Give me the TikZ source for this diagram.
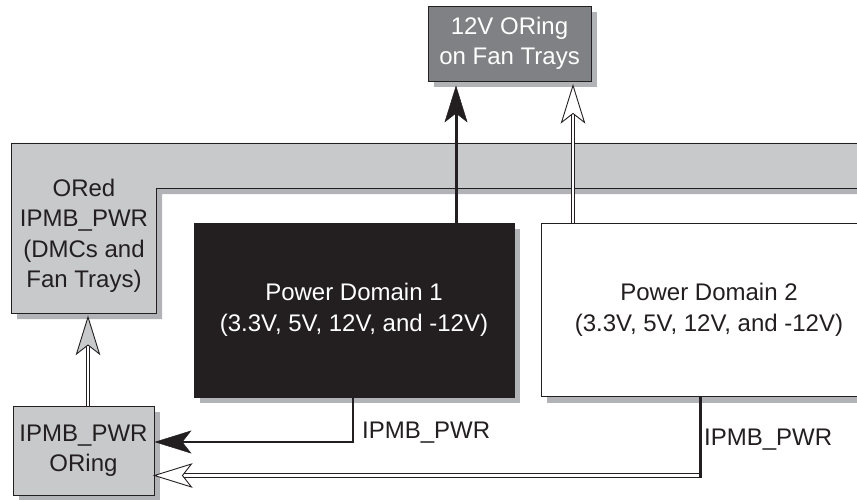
\documentclass[tikz,border=0pt]{standalone}
\usepackage{fontspec}
\setmainfont{Liberation Sans}
\usetikzlibrary{arrows.meta,shadows,calc}
\definecolor{ink}{RGB}{35,31,32}
\definecolor{lightfill}{RGB}{200,201,203}
\definecolor{darkfill}{RGB}{128,129,132}
\definecolor{shadowc}{RGB}{178,179,182}
\tikzset{
  lbl/.style={font=\fontsize{24}{30.5}\selectfont, text=ink, align=center, inner sep=0pt},
  box/.style={draw=ink, line width=0.9pt, lbl},
  shadowed/.style={drop shadow={shadow xshift=6pt, shadow yshift=-6pt, fill=shadowc, opacity=1}},
  dbl/.style={draw=ink, line width=0.9pt, double=white, double distance=2.4pt},
  solidtip/.style={-{Stealth[length=37pt,width=23pt,inset=9pt,line width=0.5pt]}},
  tip/.pic={\filldraw[draw=ink, fill=#1, line width=0.9pt, line join=miter]
    (0,0) -- (-37,11.5) -- (-28,0) -- (-37,-11.5) -- cycle;}
}
\begin{document}
\begin{tikzpicture}[x=1pt,y=-1pt]
\path[use as bounding box, fill=white] (0,0) rectangle (857,500);

% ORed L-shaped block
\path[draw=ink, line width=0.9pt, fill=lightfill, shadowed]
  (11,143) -- (880,143) -- (880,188) -- (156,188) -- (156,313) -- (11,313) -- cycle;
\node[lbl] (ored) at (84,236) {ORed\\IPMB\_PWR\\(DMCs and\\Fan Trays)};
\coordinate (oredbot) at (88,313);

% boxes
\node[box, fill=darkfill, text=white, minimum width=163pt, minimum height=75pt, shadowed]
  (fan) at (509.5,43.5) {12V ORing\\on Fan Trays};
\node[box, fill=ink, text=white, minimum width=320pt, minimum height=174pt, shadowed]
  (pd1) at (354,310) {Power Domain 1\\(3.3V, 5V, 12V, and -12V)};
\node[box, fill=white, minimum width=336pt, minimum height=173pt, shadowed]
  (pd2) at (709,310) {Power Domain 2\\(3.3V, 5V, 12V, and -12V)};
\node[box, fill=lightfill, minimum width=141pt, minimum height=89pt, shadowed]
  (oring) at (83.5,450.5) {IPMB\_PWR\\ORing};

% PD1 -> fan trays (solid)
\coordinate (a1) at (456,0);
\draw[line width=3pt, ink, solidtip] (pd1.north -| a1) -- ($(fan.south -| a1)+(0,4)$);

% PD2 -> fan trays (double)
\coordinate (a2) at (573,0);
\draw[dbl] (pd2.north -| a2) -- ($(fan.south -| a2)+(0,30)$);
\pic[rotate=90] at ($(fan.south -| a2)+(0,4)$) {tip=white};

% PD1 -> ORing (solid)
\coordinate (j1) at (353,442);
\draw[line width=2pt, ink, solidtip] (pd1.south -| j1) -- (j1) -- (j1 -| oring.east);
\node[lbl, anchor=west] (l1) at (362,433) {IPMB\_PWR};

% PD2 -> ORing (double)
\coordinate (j2) at (700,475.5);
\draw[dbl] ($(j2)+(-1,0)$) -- ($(j2 -| oring.east)+(30,0)$);
\pic[rotate=180] at (j2 -| oring.east) {tip=white};
\draw[line width=3pt, ink] (pd2.south -| j2) -- ($(j2)+(0,2.5)$);
\node[lbl, anchor=west] (l2) at (704,440) {IPMB\_PWR};

% ORing -> ORed (double, grey tip)
\coordinate (j3) at (88,0);
\draw[dbl] (oring.north -| j3) -- ($(oredbot)+(0,30)$);
\pic[rotate=90] at ($(oredbot)+(0,4)$) {tip=lightfill};
\end{tikzpicture}
\end{document}
